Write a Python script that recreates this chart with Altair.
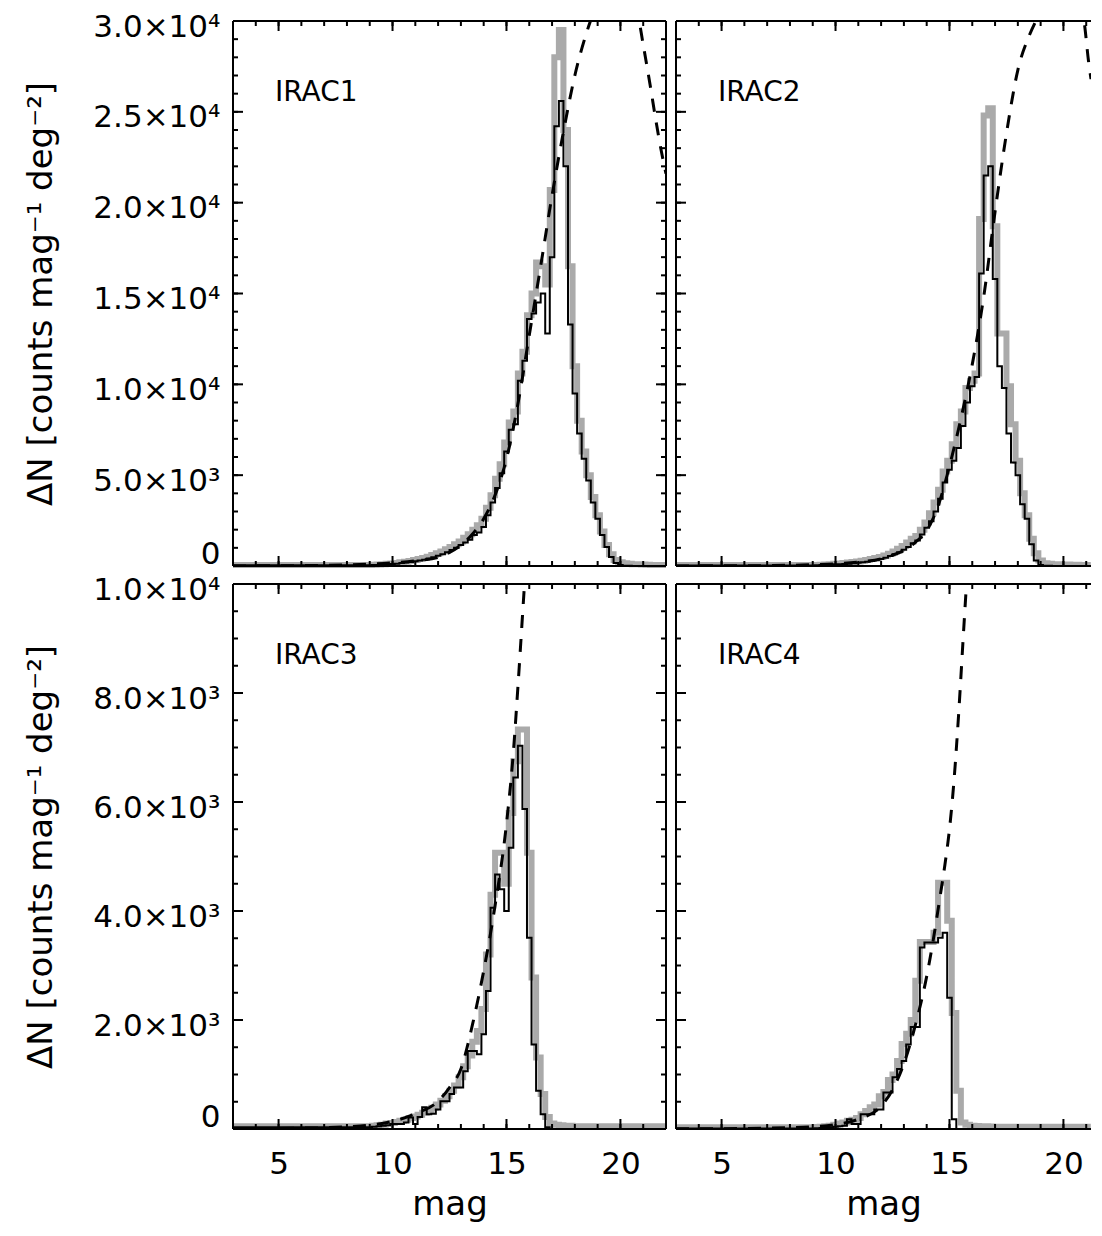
import altair as alt
import pandas as pd

# ---------------- data ----------------
# histogram bin centres, 0.2 mag bins from 9.0 to 22.0
MAG_BINS = [round(9.0 + 0.2 * i, 1) for i in range(66)]

PANEL_NAMES = ["IRAC1", "IRAC2", "IRAC3", "IRAC4"]

IRAC1_BLACK = [
    40, 50, 60, 70, 90,
    110, 130, 160, 190, 220,
    260, 300, 350, 410, 480,
    560, 650, 760, 880, 1000,
    1150, 1300, 1450, 1700, 1850,
    2150, 2800, 3500, 4300, 5100,
    6300, 7500, 7800, 10200, 11300,
    13600, 13900, 14500, 15000, 12800,
    17000, 24200, 25600, 22000, 13300,
    9500, 7300, 5900, 4700, 3500,
    2600, 1700, 1050, 500, 170,
    50, 20, 10, 5, 0,
    0, 0, 0, 0, 0,
    0,
]
IRAC1_GRAY = [
    60, 70, 80, 100, 120,
    140, 170, 200, 240, 280,
    330, 380, 440, 510, 600,
    700, 800, 920, 1050, 1200,
    1350, 1550, 1750, 2000, 2250,
    2600, 3200, 3900, 4800, 5600,
    6800, 7900, 8500, 10600, 11800,
    13800, 15000, 16700, 16500, 15500,
    20700, 28000, 29500, 24000, 16500,
    11000, 8000, 6300, 5000, 3800,
    2800, 1900, 1150, 650, 330,
    200, 150, 120, 100, 90,
    80, 70, 60, 55, 50,
    50,
]
IRAC1_FIT_MAG = [3.0, 6.0, 8.0, 9.0, 10.0, 11.0, 12.0, 12.5, 13.0, 13.5, 14.0, 14.5,
                 15.0, 15.5, 16.0, 16.5, 17.0, 17.5, 18.0, 18.5, 19.0, 19.5, 19.9,
                 20.3, 20.7, 21.0, 21.3, 21.6, 21.8, 22.0]
IRAC1_FIT = [5, 20, 60, 100, 170, 290, 470, 750, 1150, 1750, 2600, 3900,
             5900, 8900, 12700, 16500, 20400, 23900, 27000, 29300, 31000, 32100, 32400,
             32000, 30800, 28700, 26500, 24200, 22800, 21600]

IRAC2_BLACK = [
    30, 40, 50, 60, 70,
    90, 100, 110, 130, 150,
    180, 210, 240, 280, 320,
    380, 450, 550, 650, 760,
    900, 1050, 1250, 1400, 1740,
    2100, 2470, 3000, 3700, 4600,
    5300, 5800, 6500, 7700, 9000,
    9900, 10400, 16100, 21500, 22000,
    15800, 11000, 9800, 7300, 5700,
    5000, 3400, 2600, 1200, 300,
    60, 20, 10, 0, 0,
    0, 0, 0, 0, 0,
    0, 0, 0, 0, 0,
    0,
]
IRAC2_GRAY = [
    50, 60, 70, 80, 100,
    120, 140, 160, 190, 220,
    250, 290, 330, 380, 440,
    500, 580, 680, 800, 950,
    1100, 1300, 1500, 1650, 2000,
    2400, 2900, 3500, 4200, 5200,
    5800, 6700, 7800, 8500, 9800,
    10200, 10600, 19100, 24800, 25200,
    18700, 12800, 12800, 9900, 7800,
    5800, 4000, 2800, 1500, 700,
    300, 150, 120, 100, 90,
    80, 80, 70, 70, 60,
    60, 60, 50, 50, 50,
    50,
]
IRAC2_FIT_MAG = [3.0, 6.0, 8.0, 9.0, 10.0, 11.0, 12.0, 12.5, 13.0, 13.5, 14.0, 14.5,
                 15.0, 15.5, 16.0, 16.5, 17.0, 17.5, 18.0, 18.5, 18.9, 19.4, 19.9,
                 20.4, 20.9, 21.1, 21.21, 21.4, 21.69]
IRAC2_FIT = [5, 15, 40, 70, 120, 220, 400, 600, 850, 1300, 1950, 3300,
             5500, 8100, 11100, 14800, 19500, 23800, 27300, 29200, 30300, 31800, 32300,
             31700, 30000, 27800, 26800, 25000, 22300]

IRAC3_BLACK = [
    30, 40, 50, 60, 70,
    90, 90, 90, 120, 210,
    90, 220, 400, 270, 280,
    360, 510, 510, 640, 760,
    760, 1060, 1430, 1430, 1370,
    1740, 2530, 4060, 4670, 4400,
    4000, 5160, 6450, 7030, 5870,
    3510, 1550, 700, 270, 30,
    0, 0, 0, 0, 0,
    0, 0, 0, 0, 0,
    0, 0, 0, 0, 0,
    0, 0, 0, 0, 0,
    0, 0, 0, 0, 0,
    0,
]
IRAC3_GRAY = [
    50, 60, 70, 80, 100,
    110, 130, 150, 170, 200,
    230, 260, 300, 340, 390,
    450, 520, 600, 700, 800,
    950, 1150, 1350, 1600, 1800,
    2200, 3200, 4300, 5070, 5070,
    4500, 5800, 6750, 7330, 7330,
    5070, 2780, 1310, 640, 220,
    100, 80, 70, 60, 60,
    50, 50, 50, 50, 50,
    50, 50, 50, 50, 50,
    50, 50, 50, 50, 50,
    50, 50, 50, 50, 50,
    50,
]
IRAC3_FIT_MAG = [3.0, 6.0, 8.0, 9.0, 10.0, 11.0, 12.0, 12.5, 13.0, 13.5, 14.0, 14.5,
                 15.0, 15.3, 15.5, 15.7, 15.85, 16.2]
IRAC3_FIT = [5, 15, 40, 70, 140, 280, 510, 760, 1100, 1900, 2900, 4100,
             5600, 6900, 8100, 9400, 10400, 13000]

IRAC4_BLACK = [
    10, 15, 20, 25, 30,
    40, 50, 60, 180, 90,
    90, 270, 270, 270, 360,
    360, 670, 670, 950, 1100,
    1250, 1550, 1870, 1870, 3330,
    3420, 3420, 3420, 3510, 3600,
    2410, 180, 0, 0, 0,
    0, 0, 0, 0, 0,
    0, 0, 0, 0, 0,
    0, 0, 0, 0, 0,
    0, 0, 0, 0, 0,
    0, 0, 0, 0, 0,
    0, 0, 0, 0, 0,
    0,
]
IRAC4_GRAY = [
    30, 35, 40, 50, 60,
    80, 100, 120, 150, 170,
    200, 270, 330, 400, 450,
    600, 680, 900, 1000, 1250,
    1560, 1750, 2000, 2720, 3430,
    3430, 3430, 3600, 4520, 4520,
    3820, 2130, 700, 120, 80,
    60, 55, 50, 50, 45,
    40, 40, 40, 40, 40,
    40, 40, 40, 40, 40,
    40, 40, 40, 40, 40,
    40, 40, 40, 40, 40,
    40, 40, 40, 40, 40,
    40,
]
IRAC4_FIT_MAG = [3.0, 6.0, 8.0, 9.0, 10.0, 11.0, 12.0, 12.5, 13.0, 13.5, 14.0, 14.3,
                 14.6, 14.8, 15.0, 15.2, 15.4, 15.6, 15.8, 16.0]
IRAC4_FIT = [3, 10, 25, 40, 80, 180, 420, 720, 1200, 1900, 2800, 3500,
             4300, 4850, 5500, 6400, 7600, 9000, 10400, 12000]

# axes
X_DOMAIN_LEFT = [3, 22]
X_DOMAIN_RIGHT = [3, 21.21]   # right column is cut off at the picture edge
X_MAJOR = [5, 10, 15, 20]
X_MINOR = list(range(3, 23))

TOP_Y_DOMAIN = [0, 30000]
TOP_Y_MAJOR = [0, 5000, 10000, 15000, 20000, 25000, 30000]
TOP_Y_LABELS = ["0", "5.0×10³", "1.0×10⁴", "1.5×10⁴", "2.0×10⁴", "2.5×10⁴", "3.0×10⁴"]
TOP_Y_MINOR = list(range(0, 30001, 1000))

BOT_Y_DOMAIN = [0, 10000]
BOT_Y_MAJOR = [0, 2000, 4000, 6000, 8000, 10000]
BOT_Y_LABELS = ["0", "2.0×10³", "4.0×10³", "6.0×10³", "8.0×10³", "1.0×10⁴"]
BOT_Y_MINOR = list(range(0, 10001, 500))

Y_TITLE = "ΔN [counts mag⁻¹ deg⁻²]"
X_TITLE = "mag"

# ---------------- styling ----------------
FONT = "DejaVu Sans"
W_LEFT = 433
W_RIGHT = 415
H_TOP = 545
H_BOT = 545
MAJOR_LEN = 10
MINOR_LEN = 5


def label_expr(values, labels):
    expr = "''"
    for v, l in reversed(list(zip(values, labels))):
        expr = f"datum.value == {v} ? '{l}' : {expr}"
    return expr


def panel(name, black, gray, fit_mag, fit_val, ydom, ymaj, ylab, ymin, h,
          show_x, left_col):
    w = W_LEFT if left_col else W_RIGHT
    xdom = X_DOMAIN_LEFT if left_col else X_DOMAIN_RIGHT
    xs = alt.Scale(domain=xdom, nice=False, zero=False)
    ys = alt.Scale(domain=ydom, nice=False, zero=False)

    hist = pd.DataFrame({
        "mag": [3.0] + MAG_BINS,
        "black": [black[0]] + black,
        "gray": [gray[0]] + gray,
    })
    hist = hist[hist["mag"] <= xdom[1]]
    fit = pd.DataFrame({"mag": fit_mag, "fit": fit_val})
    fit = fit[fit["mag"] <= xdom[1]]

    if show_x:
        xaxis = alt.Axis(values=X_MAJOR, format="d", ticks=False, domain=False, grid=False,
                         labelFontSize=31, labelPadding=20, labelFont=FONT,
                         title=X_TITLE, titleFontSize=34, titlePadding=8,
                         titleFont=FONT, titleFontWeight="normal")
    else:
        xaxis = None
    if left_col:
        yaxis = alt.Axis(values=ymaj, labelExpr=label_expr(ymaj, ylab), ticks=False,
                         domain=False, grid=False, labelFontSize=31, labelPadding=13,
                         labelFont=FONT,
                         labelBaseline={"condition": {"test": "datum.value == 0",
                                                      "value": "alphabetic"},
                                        "value": "middle"},
                         labelOffset={"condition": {"test": "datum.value == 0",
                                                    "value": -3},
                                      "value": 6},
                         title=Y_TITLE, titleFontSize=34, titlePadding=34,
                         titleFont=FONT, titleFontWeight="normal")
    else:
        yaxis = None

    def X(field):
        return alt.X(field, scale=xs, axis=xaxis)

    def Y(field):
        return alt.Y(field, scale=ys, axis=yaxis)

    clip_hist = not left_col
    gray_line = alt.Chart(hist).mark_line(
        interpolate="step", color="#aaaaaa", strokeWidth=6, clip=clip_hist
    ).encode(x=X("mag:Q"), y=Y("gray:Q"))
    black_line = alt.Chart(hist).mark_line(
        interpolate="step", color="black", strokeWidth=2, clip=clip_hist
    ).encode(x=X("mag:Q"), y=Y("black:Q"))
    fit_line = alt.Chart(fit).mark_line(
        interpolate="monotone", color="black", strokeWidth=3,
        strokeDash=[13, 11], clip=True
    ).encode(x=X("mag:Q"), y=Y("fit:Q"))

    layers = [gray_line, black_line, fit_line]

    def tick_layer(values, side, length):
        df = pd.DataFrame({"t": values})
        base = alt.Chart(df).mark_rule(color="black", strokeWidth=2)
        if side == "bottom":
            return base.encode(x=X("t:Q"), y=alt.value(h), y2=alt.value(h - length))
        if side == "top":
            return base.encode(x=X("t:Q"), y=alt.value(0), y2=alt.value(length))
        if side == "left":
            return base.encode(y=Y("t:Q"), x=alt.value(0), x2=alt.value(length))
        return base.encode(y=Y("t:Q"), x=alt.value(w), x2=alt.value(w - length))

    xmaj = [t for t in X_MAJOR if xdom[0] <= t <= xdom[1]]
    xmin = [t for t in X_MINOR if xdom[0] <= t <= xdom[1]]
    for side in ["bottom", "top"]:
        layers.append(tick_layer(xmaj, side, MAJOR_LEN))
        layers.append(tick_layer(xmin, side, MINOR_LEN))
    sides_y = ["left", "right"] if left_col else ["left"]
    for side in sides_y:
        layers.append(tick_layer(ymaj, side, MAJOR_LEN))
        layers.append(tick_layer(ymin, side, MINOR_LEN))

    # frame (the right column's right edge lies outside the picture)
    one = pd.DataFrame({"k": [0]})
    frame = alt.Chart(one).mark_rule(color="black", strokeWidth=2)
    layers.append(frame.encode(x=alt.value(0), y=alt.value(0), y2=alt.value(h)))
    layers.append(frame.encode(x=alt.value(0), x2=alt.value(w), y=alt.value(0)))
    layers.append(frame.encode(x=alt.value(0), x2=alt.value(w), y=alt.value(h)))
    if left_col:
        layers.append(frame.encode(x=alt.value(w), y=alt.value(0), y2=alt.value(h)))

    label = alt.Chart(pd.DataFrame({"name": [name]})).mark_text(
        align="left", baseline="middle", fontSize=28, font=FONT, color="black"
    ).encode(x=alt.value(42), y=alt.value(72), text="name:N")
    layers.append(label)

    return alt.layer(*layers).properties(width=w, height=h)


p1 = panel(PANEL_NAMES[0], IRAC1_BLACK, IRAC1_GRAY, IRAC1_FIT_MAG, IRAC1_FIT,
           TOP_Y_DOMAIN, TOP_Y_MAJOR, TOP_Y_LABELS, TOP_Y_MINOR, H_TOP, False, True)
p2 = panel(PANEL_NAMES[1], IRAC2_BLACK, IRAC2_GRAY, IRAC2_FIT_MAG, IRAC2_FIT,
           TOP_Y_DOMAIN, TOP_Y_MAJOR, TOP_Y_LABELS, TOP_Y_MINOR, H_TOP, False, False)
p3 = panel(PANEL_NAMES[2], IRAC3_BLACK, IRAC3_GRAY, IRAC3_FIT_MAG, IRAC3_FIT,
           BOT_Y_DOMAIN, BOT_Y_MAJOR, BOT_Y_LABELS, BOT_Y_MINOR, H_BOT, True, True)
p4 = panel(PANEL_NAMES[3], IRAC4_BLACK, IRAC4_GRAY, IRAC4_FIT_MAG, IRAC4_FIT,
           BOT_Y_DOMAIN, BOT_Y_MAJOR, BOT_Y_LABELS, BOT_Y_MINOR, H_BOT, True, False)

chart = alt.concat(
    p1, p2, p3, p4, columns=2, spacing={"row": 18, "column": 10}, bounds="flush"
).properties(
    padding={"left": 16, "top": 2, "right": 0, "bottom": 0}
).configure_view(
    stroke="transparent"
).configure_axis(
    labelColor="black", titleColor="black"
)

chart.save("out.html", embed_options={"renderer": "svg", "actions": False})
